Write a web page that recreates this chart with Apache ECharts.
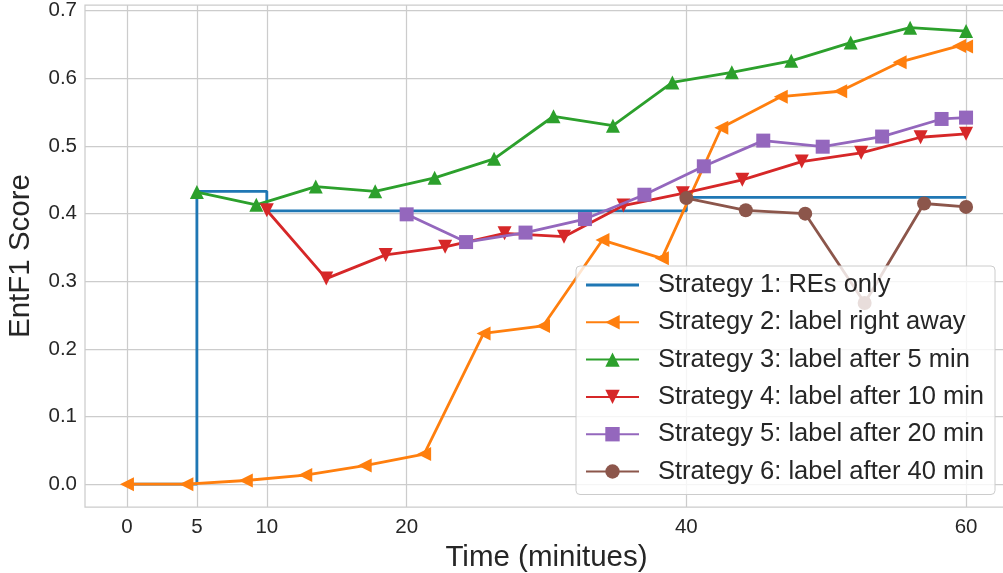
<!DOCTYPE html>
<html>
<head>
<meta charset="utf-8">
<title>EntF1 Score over time</title>
<script src="https://cdn.jsdelivr.net/npm/echarts@6/dist/echarts.min.js"></script>
<style>
  html, body { margin: 0; padding: 0; background: #ffffff; }
  #chart { width: 1003px; height: 573px; }
</style>
</head>
<body>
<div id="chart"></div>
<script>
// Series names
const seriesNames = [
  'Strategy 1: REs only',
  'Strategy 2: label right away',
  'Strategy 3: label after 5 min',
  'Strategy 4: label after 10 min',
  'Strategy 5: label after 20 min',
  'Strategy 6: label after 40 min'
];

// Time (minutes) and EntF1 values for each strategy
const s1Time  = [0, 5, 10, 40, 60];
const s1Score = [0, 0.433, 0.404, 0.424, 0.424];

const s2Time  = [0, 4.25, 8.5, 12.75, 17, 21.25, 25.5, 29.75, 34, 38.25, 42.5, 46.75, 51, 55.25, 59.5, 60];
const s2Score = [0, 0, 0.0055, 0.0135, 0.0275, 0.0445, 0.223, 0.234, 0.361, 0.334, 0.527, 0.573, 0.581, 0.624, 0.648, 0.647];

const s3Time  = [5, 9.25, 13.5, 17.75, 22, 26.25, 30.5, 34.75, 39, 43.25, 47.5, 51.75, 56, 60];
const s3Score = [0.432, 0.413, 0.440, 0.433, 0.453, 0.481, 0.544, 0.530, 0.594, 0.609, 0.626, 0.653, 0.675, 0.670];

const s4Time  = [10, 14.25, 18.5, 22.75, 27, 31.25, 35.5, 39.75, 44, 48.25, 52.5, 56.75, 60];
const s4Score = [0.405, 0.304, 0.339, 0.351, 0.371, 0.366, 0.412, 0.430, 0.450, 0.477, 0.490, 0.513, 0.518];

const s5Time  = [20, 24.25, 28.5, 32.75, 37, 41.25, 45.5, 49.75, 54, 58.25, 60];
const s5Score = [0.399, 0.358, 0.372, 0.392, 0.428, 0.470, 0.508, 0.499, 0.514, 0.540, 0.542];

const s6Time  = [40, 44.25, 48.5, 52.75, 57, 60];
const s6Score = [0.423, 0.405, 0.400, 0.268, 0.415, 0.410];

// Axis ticks
const xTicks = [0, 5, 10, 20, 40, 60];
const yTicks = [0, 0.1, 0.2, 0.3, 0.4, 0.5, 0.6, 0.7];

const colors = ['#1f77b4', '#ff7f0e', '#2ca02c', '#d62728', '#9467bd', '#8c564b'];
const FONT = '"Liberation Sans", Arial, sans-serif';
const TEXT = '#262626';
const GRID = '#cccccc';

function pairs(xs, ys) {
  return xs.map((x, i) => [x, ys[i]]);
}

const TRI_LEFT = 'path://M0,5L10,0L10,10Z';
const TRI_UP = 'path://M5,0L10,10L0,10Z';
const TRI_DOWN = 'path://M0,0L10,0L5,10Z';
// plain line swatch for the step series (no marker)
const LINE_ONLY = 'path://M0,0L53,0L53,2.8L0,2.8Z';

function lineSeries(idx, xs, ys, symbol, size, extra) {
  return Object.assign({
    name: seriesNames[idx],
    type: 'line',
    data: pairs(xs, ys),
    symbol: symbol,
    symbolSize: size,
    showAllSymbol: true,
    lineStyle: { color: colors[idx], width: 2.8 },
    itemStyle: { color: colors[idx], borderWidth: 0 },
    emphasis: { disabled: true },
    z: 2 + idx * 0.01
  }, extra || {});
}

const chart = echarts.init(document.getElementById('chart'), null, { renderer: 'canvas' });

chart.setOption({
  animation: false,
  backgroundColor: '#ffffff',
  textStyle: { fontFamily: FONT },
  grid: {
    left: 85, top: 5, right: -5, bottom: 66,
    containLabel: false,
    outerBoundsMode: 'none',
    show: true, borderColor: GRID, borderWidth: 1.25, backgroundColor: '#ffffff'
  },
  xAxis: {
    type: 'value',
    min: -3, max: 63,
    name: 'Time (minitues)',
    nameLocation: 'middle',
    nameGap: 31,
    nameTextStyle: { fontSize: 29.5, color: TEXT, fontFamily: FONT },
    axisLine: { show: false },
    axisTick: { show: false, customValues: xTicks },
    axisLabel: { customValues: xTicks, fontSize: 20.5, color: TEXT, fontFamily: FONT, margin: 10 },
    splitLine: { show: true, lineStyle: { color: GRID, width: 1.25 } }
  },
  yAxis: {
    type: 'value',
    min: -0.0337, max: 0.7085,
    name: 'EntF1 Score',
    nameLocation: 'middle',
    nameGap: 49,
    nameTextStyle: { fontSize: 29.5, color: TEXT, fontFamily: FONT },
    axisLine: { show: false },
    axisTick: { show: false, customValues: yTicks },
    axisLabel: {
      customValues: yTicks, fontSize: 20.5, color: TEXT, fontFamily: FONT, margin: 8,
      formatter: v => v.toFixed(1)
    },
    splitLine: { show: true, lineStyle: { color: GRID, width: 1.25 } }
  },
  legend: {
    orient: 'vertical',
    left: 576, top: 266,
    itemWidth: 53, itemHeight: 18, itemGap: 11.3,
    padding: [6, 11, 10, 9],
    backgroundColor: 'rgba(255,255,255,0.8)',
    borderColor: GRID, borderWidth: 1, borderRadius: 4,
    textStyle: { fontSize: 25.5, color: TEXT, fontFamily: FONT, padding: [0, 0, 0, 14] },
    selectedMode: false,
    data: [
      { name: seriesNames[0], icon: LINE_ONLY },
      seriesNames[1], seriesNames[2], seriesNames[3], seriesNames[4], seriesNames[5]
    ]
  },
  series: [
    lineSeries(0, s1Time, s1Score, 'none', 0, { step: 'end' }),
    lineSeries(1, s2Time, s2Score, TRI_LEFT, 14),
    lineSeries(2, s3Time, s3Score, TRI_UP, 14),
    lineSeries(3, s4Time, s4Score, TRI_DOWN, 14),
    lineSeries(4, s5Time, s5Score, 'rect', 14),
    lineSeries(5, s6Time, s6Score, 'circle', 14)
  ]
});
</script>
</body>
</html>
